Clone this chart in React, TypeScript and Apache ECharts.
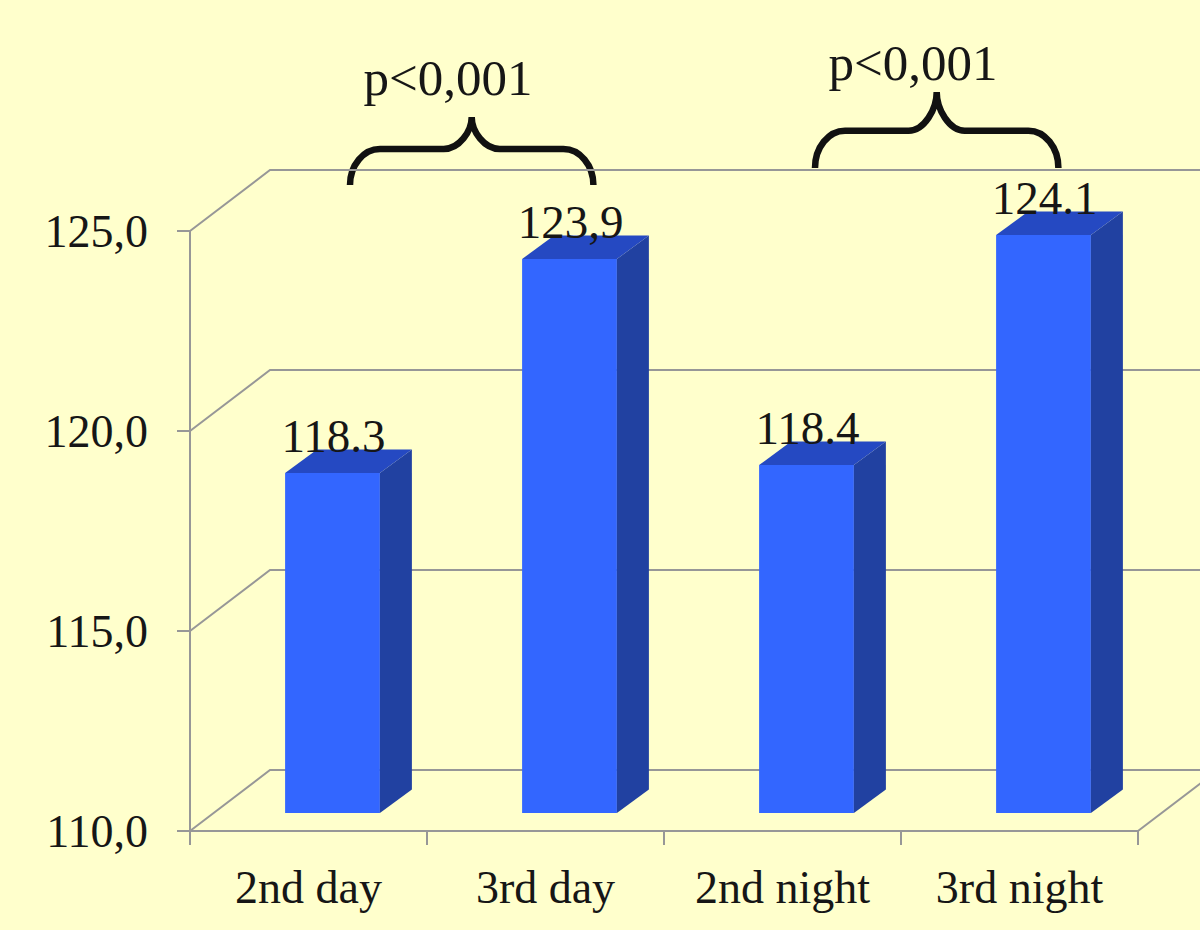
import React, { useEffect, useRef } from "react";
import * as echarts from "echarts";

// ---- data ----
const categories = ["2nd day", "3rd day", "2nd night", "3rd night"];
const barValues = [118.5, 123.85, 118.7, 124.45];
const barLabels = ["118.3", "123,9", "118.4", "124.1"];
const yTicks = [110, 115, 120, 125];
const pLabels = ["p<0,001", "p<0,001"];

// ---- style constants ----
const Y_MIN = 110;
const Y_MAX = 125;
const BG = "#FFFFCC";
const GRID = "#979797";
const TEXT = "#161616";
const FONT = "'Liberation Serif', 'Times New Roman', serif";
const FRONT = "#3366FF";
const SIDE = "#2141A1";
const TOP = "#2549C2";
const WDX = 80; // wall depth
const WDY = -61;
const FRONT_DX = 24; // bar front plane offset
const FRONT_DY = -18;
const DDX = 32; // bar depth
const DDY = -23.4;

function bracePath(w: number, flat: number, end: number): string {
  const r = 30;
  const t = 28;
  const k = 0.55;
  return [
    `M${-w},${end}`,
    `C${-w},${end - k * (end - flat)} ${-w + r - k * r},${flat} ${-w + r},${flat}`,
    `L${-t},${flat}`,
    `C${-t + k * t},${flat} 0,${flat * (1 - k)} 0,0`,
    `C0,${flat * (1 - k)} ${t - k * t},${flat} ${t},${flat}`,
    `L${w - r},${flat}`,
    `C${w - r + k * r},${flat} ${w},${end - k * (end - flat)} ${w},${end}`,
  ].join(" ");
}

echarts.graphic.registerShape("braceL", echarts.graphic.extendPath(bracePath(121.7, 32, 68), {}) as any);
echarts.graphic.registerShape("braceR", echarts.graphic.extendPath(bracePath(121.7, 38.7, 76), {}) as any);

export default function App() {
  const ref = useRef<HTMLDivElement>(null);
  useEffect(() => {
    if (!ref.current) return;
    const chart = echarts.init(ref.current, undefined, { renderer: "svg" });
    const option: any = {
      animation: false,
      backgroundColor: BG,
      grid: { left: 190, right: 62, top: 231, bottom: 99, containLabel: false },
      xAxis: {
        type: "category",
        data: categories,
        boundaryGap: true,
        axisLine: { show: true, lineStyle: { color: GRID, width: 2 } },
        axisTick: { show: true, length: 14, lineStyle: { color: GRID, width: 2 } },
        axisLabel: { color: TEXT, fontFamily: FONT, fontSize: 46, margin: 33 },
        splitLine: { show: false },
      },
      yAxis: {
        type: "value",
        min: Y_MIN,
        max: Y_MAX,
        interval: 5,
        axisLine: { show: true, lineStyle: { color: GRID, width: 2 } },
        axisTick: { show: true, length: 13, lineStyle: { color: GRID, width: 2 } },
        axisLabel: {
          color: TEXT,
          fontFamily: FONT,
          fontSize: 46,
          margin: 42,
          formatter: (v: number) => v.toFixed(1).replace(".", ","),
        },
        splitLine: { show: false },
      },
      series: [
        {
          type: "custom",
          name: "wall",
          z: 1,
          clip: false,
          silent: true,
          data: yTicks.map((v) => [0, v]),
          renderItem: (params: any, api: any) => {
            const v = api.value(1);
            const cs = params.coordSys;
            const x0 = cs.x;
            const w = cs.width;
            const y = api.coord([0, v])[1];
            const children: any[] = [
              {
                type: "polyline",
                shape: { points: [[x0, y], [x0 + WDX, y + WDY], [x0 + w + WDX + 200, y + WDY]] },
                style: { stroke: GRID, lineWidth: 2, fill: null },
              },
            ];
            if (v === Y_MIN) {
              children.push({
                type: "line",
                shape: { x1: x0 + w, y1: y, x2: x0 + w + WDX, y2: y + WDY },
                style: { stroke: GRID, lineWidth: 2 },
              });
            }
            return { type: "group", children };
          },
        },
        {
          type: "custom",
          name: "bars",
          z: 2,
          clip: false,
          data: barValues.map((v, i) => [i, v]),
          renderItem: (params: any, api: any) => {
            const i = api.value(0);
            const v = api.value(1);
            const base = api.coord([i, Y_MIN]);
            const top = api.coord([i, v]);
            const bw = api.size([1, 0])[0] * 0.4;
            const fx = base[0] + FRONT_DX - bw / 2;
            const fx2 = fx + bw;
            const fy0 = base[1] + FRONT_DY;
            const fy1 = top[1] + FRONT_DY;
            return {
              type: "group",
              children: [
                {
                  type: "rect",
                  shape: { x: fx, y: fy1, width: bw, height: fy0 - fy1 },
                  style: { fill: FRONT },
                },
                {
                  type: "polygon",
                  shape: { points: [[fx2, fy1], [fx2 + DDX, fy1 + DDY], [fx2 + DDX, fy0 + DDY], [fx2, fy0]] },
                  style: { fill: SIDE },
                },
                {
                  type: "polygon",
                  shape: { points: [[fx, fy1], [fx + DDX, fy1 + DDY], [fx2 + DDX, fy1 + DDY], [fx2, fy1]] },
                  style: { fill: TOP },
                },
                {
                  type: "text",
                  x: fx + bw / 2 + 1,
                  y: fy1 + DDY + 10,
                  style: {
                    text: barLabels[params.dataIndex],
                    fill: TEXT,
                    font: `47px ${FONT}`,
                    align: "center",
                    verticalAlign: "bottom",
                  },
                },
              ],
            };
          },
        },
      ],
      graphic: [
        {
          type: "braceL",
          x: 471.7,
          y: 117,
          style: { stroke: "#111111", lineWidth: 6.5, fill: "none" },
        },
        {
          type: "braceR",
          x: 936.7,
          y: 92,
          style: { stroke: "#111111", lineWidth: 6.5, fill: "none" },
        },
        {
          type: "text",
          x: 448,
          y: 103,
          style: { text: pLabels[0], fill: TEXT, font: `51px ${FONT}`, align: "center", verticalAlign: "bottom" },
        },
        {
          type: "text",
          x: 913,
          y: 88.5,
          style: { text: pLabels[1], fill: TEXT, font: `51px ${FONT}`, align: "center", verticalAlign: "bottom" },
        },
      ],
    };
    chart.setOption(option);
    return () => chart.dispose();
  }, []);
  return (
    <div
      ref={ref}
      style={{ position: "fixed", left: 0, top: 0, width: 1200, height: 930, background: BG }}
    />
  );
}
